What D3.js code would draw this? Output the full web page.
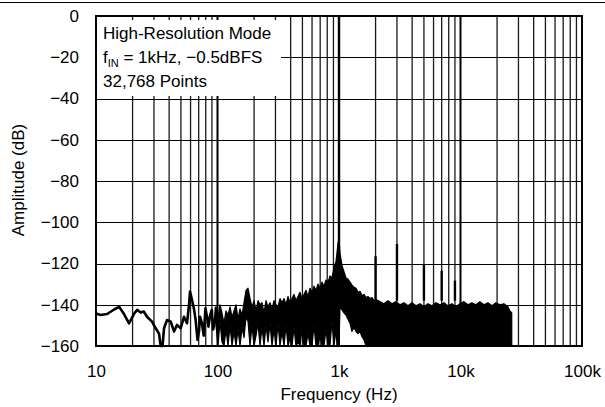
<!DOCTYPE html>
<html>
<head>
<meta charset="utf-8">
<script src="https://cdn.jsdelivr.net/npm/d3@7"></script>
<style>
  body { margin: 0; background: #fff; }
  text { font-family: "Liberation Sans", Arial, Helvetica, sans-serif; fill: #000; }
</style>
</head>
<body>
<div id="chart"></div>
<script>

// axis ticks
var xTicks = [10, 100, 1000, 10000, 100000];
var xTickLabels = ["10", "100", "1k", "10k", "100k"];
var yTicks = [0, -20, -40, -60, -80, -100, -120, -140, -160];

// low frequency part of the FFT trace (Hz, dB)
var lowFreq = [10, 10.9, 12.3, 13.2, 14.1, 15.5, 17, 18.7, 20.5, 21.8,
    23.3, 24.8, 26.3, 28.9, 31, 33, 34.1, 35.3, 36.3, 38.4,
    41.2, 43.9, 46.4, 49.8, 53, 56.1, 58.3, 59.4, 61.7, 64,
    66.1, 68.5, 70.4, 71.8, 74.5, 77, 79.6, 82, 84.2, 87,
    89.7, 92, 95.3, 97.2];
var lowDb = [-144.2, -145, -144.5, -143.4, -142.3, -141, -144.5, -149, -144.5, -142.5,
    -143.8, -143.3, -145.8, -148.2, -151.4, -154, -160, -160, -151.4, -147.4,
    -148.2, -153, -149.8, -151.4, -145.8, -149, -140, -133.6, -137.7, -142,
    -147.4, -157, -153, -145.8, -149, -155, -141.7, -146, -150.6, -145,
    -142.5, -152, -148, -141];

// dense part of the spectrum: upper and lower edge of the black band
var floorFreq = [97.2, 101, 104.8, 108.9, 113.1, 117.5, 122.1, 126.8, 131.7, 136.8,
    142.1, 147.6, 153.2, 159.2, 165.3, 171.7, 178.3, 185.2, 192.3, 199.8,
    207.5, 215.5, 223.8, 232.4, 241.4, 250.8, 260.4, 270.5, 280.9, 291.8,
    303.1, 314.8, 326.9, 339.6, 352.7, 366.3, 380.5, 395.2, 410.4, 426.3,
    442.7, 459.8, 477.6, 496, 515.2, 535.1, 555.7, 577.2, 599.5, 622.6,
    646.6, 671.6, 697.5, 724.4, 752.4, 781.4, 811.6, 842.9, 875.5, 909.3,
    944.4, 962.4, 981.2, 1000, 1019, 1058.5, 1099.4, 1141.8, 1185.9, 1231.7,
    1279.2, 1328.6, 1379.9, 1433.2, 1488.5, 1546, 1605.7, 1667.7, 1732.1, 1799,
    1868.4, 1940.6, 2015.5, 2174, 2345, 2530, 2729, 2943, 3175, 3425,
    3695, 3986, 4300, 4638, 5003, 5397, 5822, 6280, 6774, 7307,
    7882, 8503, 9172, 9894, 10673, 11513, 12419, 13396, 14450, 15587,
    16814, 18137, 19564, 21104, 22764, 24555, 25500, 26400];
var floorTop = [-141, -146, -140, -144, -149, -143, -145, -141, -146, -143,
    -140, -147, -142, -145, -139, -133, -132, -137, -141, -138,
    -143, -138, -140, -139, -144, -138, -141, -139, -142, -138,
    -140, -141, -137, -139, -137, -140, -136, -139, -137, -135,
    -138, -136, -134, -137, -135, -133, -136, -132, -134, -131,
    -133, -130, -132, -129, -131, -128, -129, -126, -127, -122,
    -119, -115, -110, -108, -115, -121, -124, -127, -127.5, -129,
    -130.5, -131.5, -132, -134, -133.5, -135.5, -135, -136.5, -136, -137,
    -136.5, -138, -137.5, -138.5, -139.5, -138, -139.5, -138.5, -140, -139,
    -140.5, -139, -140.5, -139.5, -141, -139.5, -140.5, -139, -140, -139,
    -140.5, -139.5, -141, -139.5, -138.5, -140, -139, -140, -138.5, -140,
    -139, -140.5, -139, -140, -139.5, -141, -143, -144];
var floorBottom = [-150, -160, -148, -158, -160, -152, -160, -150, -160, -153,
    -160, -152, -160, -151, -156, -146, -148, -160, -150, -160,
    -155, -149, -160, -151, -160, -150, -158, -149, -160, -152,
    -160, -149, -160, -153, -160, -150, -160, -156, -160, -151,
    -160, -158, -160, -152, -160, -160, -154, -160, -160, -150,
    -160, -160, -155, -160, -160, -152, -160, -160, -148, -160,
    -152, -160, -160, -160, -141, -142.5, -144, -145, -147, -149,
    -153, -151, -153, -154, -153, -155.5, -157, -160, -160, -160,
    -160, -160, -160, -160, -160, -160, -160, -160, -160, -160,
    -160, -160, -160, -160, -160, -160, -160, -160, -160, -160,
    -160, -160, -160, -160, -160, -160, -160, -160, -160, -160,
    -160, -160, -160, -160, -160, -160, -160, -160];

// fundamental and harmonic spurs
var spurFreq = [1000, 2000, 3000, 5000, 7000, 9000];
var spurDb = [0, -116.5, -110.5, -120.7, -123.5, -128.3];

var legendLines = ["High-Resolution Mode", "32,768 Points"];

var chartW = 605, chartH = 407;
var plotL = 96, plotR = 582, plotT = 16, plotB = 346;
var font = "'Liberation Sans', Arial, Helvetica, sans-serif";

var svg = d3.select("#chart").append("svg")
    .attr("width", chartW)
    .attr("height", chartH);

var x = d3.scaleLog().domain([10, 100000]).range([plotL, plotR]);
var y = d3.scaleLinear().domain([-160, 0]).range([plotB, plotT]);

// rule at the very top of the page
svg.append("line")
    .attr("x1", 0).attr("x2", chartW)
    .attr("y1", 2.5).attr("y2", 2.5)
    .attr("stroke", "#000").attr("stroke-width", 1);

// grid
var grid = svg.append("g");
var minor = [];
[10, 100, 1000, 10000].forEach(function (d) {
    for (var k = 2; k <= 9; k++) minor.push(d * k);
});
grid.selectAll(".minor")
    .data(minor)
    .enter().append("line")
    .attr("class", "minor")
    .attr("x1", function (d) { return x(d); })
    .attr("x2", function (d) { return x(d); })
    .attr("y1", plotT).attr("y2", plotB)
    .attr("stroke", "#1a1a1a").attr("stroke-width", 1.3);

grid.selectAll(".major")
    .data([100, 1000, 10000])
    .enter().append("line")
    .attr("class", "major")
    .attr("x1", function (d) { return x(d); })
    .attr("x2", function (d) { return x(d); })
    .attr("y1", plotT).attr("y2", plotB)
    .attr("stroke", "#000").attr("stroke-width", 2);

grid.selectAll(".hgrid")
    .data(yTicks.slice(1, -1))
    .enter().append("line")
    .attr("class", "hgrid")
    .attr("x1", plotL).attr("x2", plotR)
    .attr("y1", function (d) { return Math.round(y(d)) + 0.5; })
    .attr("y2", function (d) { return Math.round(y(d)) + 0.5; })
    .attr("stroke", "#000").attr("stroke-width", 1);

// legend box covers the grid in the top left corner
svg.append("rect")
    .attr("x", 97).attr("y", 20)
    .attr("width", 184).attr("height", 76)
    .attr("fill", "#fff");

var legend = svg.append("g").attr("font-size", 17);
legend.append("text").attr("x", 103).attr("y", 39).text(legendLines[0]);
var fin = legend.append("text").attr("x", 103).attr("y", 63);
fin.append("tspan").text("f");
fin.append("tspan").attr("font-size", 11).attr("dy", 4).text("IN");
fin.append("tspan").attr("dy", -4).text(" = 1kHz, \u22120.5dBFS");
legend.append("text").attr("x", 103).attr("y", 87).text(legendLines[1]);

// data
var plot = svg.append("g");

plot.append("path")
    .datum(floorFreq)
    .attr("d", d3.area()
        .x(function (d) { return x(d); })
        .y0(function (d, i) { return y(floorBottom[i]); })
        .y1(function (d, i) { return y(floorTop[i]); }))
    .attr("fill", "#000")
    .attr("stroke", "#000")
    .attr("stroke-width", 1.2)
    .attr("stroke-linejoin", "round");

plot.append("path")
    .datum(lowFreq)
    .attr("d", d3.line()
        .x(function (d) { return x(d); })
        .y(function (d, i) { return y(lowDb[i]); }))
    .attr("fill", "none")
    .attr("stroke", "#000")
    .attr("stroke-width", 2.6)
    .attr("stroke-linejoin", "round");

plot.selectAll(".spur")
    .data(spurFreq)
    .enter().append("line")
    .attr("class", "spur")
    .attr("x1", function (d) { return x(d); })
    .attr("x2", function (d) { return x(d); })
    .attr("y1", y(-138))
    .attr("y2", function (d, i) { return y(spurDb[i]); })
    .attr("stroke", "#000")
    .attr("stroke-width", 2.4);

// frame
svg.append("rect")
    .attr("x", plotL).attr("y", plotT)
    .attr("width", plotR - plotL).attr("height", plotB - plotT)
    .attr("fill", "none")
    .attr("stroke", "#000")
    .attr("stroke-width", 2);

// axes
var yAxis = svg.append("g")
    .attr("transform", "translate(" + plotL + ",0)")
    .call(d3.axisLeft(y).tickValues(yTicks).tickSize(0).tickPadding(17)
        .tickFormat(function (d) { return d === 0 ? "0" : "\u2212" + Math.abs(d); }));
yAxis.select(".domain").remove();
yAxis.attr("font-size", 17).attr("font-family", font);

var xAxis = svg.append("g")
    .attr("transform", "translate(0," + plotB + ")")
    .call(d3.axisBottom(x).tickValues(xTicks).tickSize(0).tickPadding(19)
        .tickFormat(function (d, i) { return xTickLabels[i]; }));
xAxis.select(".domain").remove();
xAxis.attr("font-size", 17).attr("font-family", font);

// axis titles
svg.append("text")
    .attr("x", (plotL + plotR) / 2).attr("y", 400)
    .attr("text-anchor", "middle")
    .attr("font-size", 17)
    .text("Frequency (Hz)");

svg.append("text")
    .attr("transform", "translate(24,180) rotate(-90)")
    .attr("text-anchor", "middle")
    .attr("font-size", 17)
    .text("Amplitude (dB)");

</script>
</body>
</html>
